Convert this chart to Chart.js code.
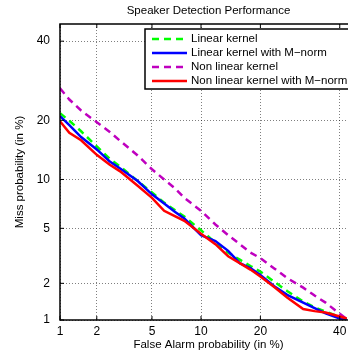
<!DOCTYPE html>
<html>
<head>
<meta charset="utf-8">
<script src="https://cdn.jsdelivr.net/npm/chart.js@4.4.1/dist/chart.umd.min.js"></script>
<style>
  html, body { margin: 0; padding: 0; background: #fff; overflow: hidden; }
  #wrap { width: 372px; height: 352px; }
</style>
</head>
<body>
<div id="wrap"><canvas id="det" width="372" height="352"></canvas></div>
<script>
// Data (percent)
const falseAlarm = [1, 1.2, 1.5, 2, 2.5, 3, 4, 5, 6, 7, 8, 10, 12, 14, 16, 18, 20, 23, 26, 30, 33, 36, 40, 42];
const missLinear = [21.5, 19.9, 17.8, 15.0, 13.0, 11.8, 9.8, 8.4, 7.3, 6.56, 5.97, 4.85, 4.0, 3.39, 3.02, 2.71, 2.46, 2.06, 1.74, 1.43, 1.28, 1.18, 1.06, 1.01];
const missLinearMnorm = [20.9, 19.0, 16.7, 14.5, 12.6, 11.5, 9.8, 8.2, 7.2, 6.4, 5.8, 4.5, 4.1, 3.5, 2.85, 2.62, 2.32, 1.9, 1.62, 1.40, 1.26, 1.14, 1.03, 1.01];
const missNonLinear = [27.3, 24.6, 22.1, 19.6, 17.7, 16.0, 13.5, 11.4, 10.0, 8.9, 7.8, 6.5, 5.3, 4.5, 3.9, 3.4, 3.1, 2.6, 2.2, 1.85, 1.6, 1.4, 1.13, 1.02];
const missNonLinearMnorm = [19.8, 17.5, 16.1, 13.6, 12.1, 11.1, 9.2, 7.8, 6.5, 6.0, 5.6, 4.6, 3.9, 3.2, 2.85, 2.55, 2.26, 1.87, 1.54, 1.24, 1.19, 1.16, 1.07, 1.03];

const tickLabels = [1, 2, 5, 10, 20, 40];
const axisMin = 1;
const axisMax = 45;

const seriesNames = ['Linear kernel', 'Linear kernel with M\u2212norm', 'Non linear kernel', 'Non linear kernel with M\u2212norm'];
const seriesColors = ['#00ff00', '#0000ff', '#bf00bf', '#ff0000'];

const FONT = '"Liberation Sans", Arial, Helvetica, sans-serif';

// inverse normal CDF (Acklam)
function probit(p) {
    const a = [-3.969683028665376e+01, 2.209460984245205e+02, -2.759285104469687e+02, 1.383577518672690e+02, -3.066479806614716e+01, 2.506628277459239e+00];
    const b = [-5.447609879822406e+01, 1.615858368580409e+02, -1.556989798598866e+02, 6.680131188771972e+01, -1.328068155288572e+01];
    const c = [-7.784894002430293e-03, -3.223964580411365e-01, -2.400758277161838e+00, -2.549732539343734e+00, 4.374664141464968e+00, 2.938163982698783e+00];
    const d = [7.784695709041462e-03, 3.224671290700398e-01, 2.445134137142996e+00, 3.754408661907416e+00];
    const plow = 0.02425;
    let q, r;
    if (p < plow) {
        q = Math.sqrt(-2 * Math.log(p));
        return (((((c[0]*q+c[1])*q+c[2])*q+c[3])*q+c[4])*q+c[5]) / ((((d[0]*q+d[1])*q+d[2])*q+d[3])*q+1);
    }
    if (p <= 1 - plow) {
        q = p - 0.5; r = q * q;
        return (((((a[0]*r+a[1])*r+a[2])*r+a[3])*r+a[4])*r+a[5])*q / (((((b[0]*r+b[1])*r+b[2])*r+b[3])*r+b[4])*r+1);
    }
    q = Math.sqrt(-2 * Math.log(1 - p));
    return -(((((c[0]*q+c[1])*q+c[2])*q+c[3])*q+c[4])*q+c[5]) / ((((d[0]*q+d[1])*q+d[2])*q+d[3])*q+1);
}

function toPoints(miss) {
    return falseAlarm.map((fa, i) => ({ x: probit(fa / 100), y: probit(miss[i] / 100) }));
}

const allMiss = [missLinear, missLinearMnorm, missNonLinear, missNonLinearMnorm];
const dashes = [[7, 5], [], [7, 5], []];
const drawOrder = [2, 1, 3, 0]; // red on top

const datasets = allMiss.map((miss, i) => ({
    label: seriesNames[i],
    data: toPoints(miss),
    borderColor: seriesColors[i],
    borderWidth: 2.5,
    borderDash: dashes[i],
    pointRadius: 0,
    tension: 0,
    fill: false,
    order: drawOrder[i]
}));

function probitTicks(scale) {
    scale.ticks = tickLabels.map(v => ({ value: probit(v / 100) }));
}

// frame, inward ticks, title, axis titles and the boxed legend
const decorations = {
    id: 'decorations',
    afterDraw(chart) {
        const { ctx, chartArea: ca, scales } = chart;
        ctx.save();

        // frame
        ctx.strokeStyle = '#000';
        ctx.lineWidth = 1.5;
        ctx.strokeRect(ca.left, ca.top, ca.right - ca.left, ca.bottom - ca.top);

        // inward tick marks
        ctx.lineWidth = 1;
        ctx.beginPath();
        tickLabels.forEach(v => {
            const px = scales.x.getPixelForValue(probit(v / 100));
            ctx.moveTo(px, ca.top); ctx.lineTo(px, ca.top + 4);
            ctx.moveTo(px, ca.bottom); ctx.lineTo(px, ca.bottom - 4);
            const py = scales.y.getPixelForValue(probit(v / 100));
            ctx.moveTo(ca.left, py); ctx.lineTo(ca.left + 4, py);
        });
        ctx.stroke();

        // titles
        const cx = (ca.left + ca.right) / 2;
        ctx.fillStyle = '#000';
        ctx.font = '11.5px ' + FONT;
        ctx.textAlign = 'center';
        ctx.textBaseline = 'middle';
        ctx.fillText('Speaker Detection Performance', cx, 11);
        ctx.fillText('False Alarm probability (in %)', cx, 345);
        ctx.save();
        ctx.translate(20, (ca.top + ca.bottom) / 2);
        ctx.rotate(-Math.PI / 2);
        ctx.fillText('Miss probability (in %)', 0, 0);
        ctx.restore();

        // legend
        const lx = 145, ly = 29, lh = 60;
        ctx.fillStyle = '#fff';
        ctx.fillRect(lx, ly, 220, lh);
        ctx.strokeStyle = '#000';
        ctx.lineWidth = 1.5;
        ctx.strokeRect(lx, ly, 220, lh);
        seriesNames.forEach((name, i) => {
            const y = 39 + i * 14;
            ctx.beginPath();
            ctx.strokeStyle = seriesColors[i];
            ctx.lineWidth = 2.5;
            ctx.setLineDash(dashes[i]);
            ctx.moveTo(152, y);
            ctx.lineTo(187, y);
            ctx.stroke();
            ctx.setLineDash([]);
            ctx.fillStyle = '#000';
            ctx.textAlign = 'left';
            ctx.fillText(name, 191, y);
        });

        ctx.restore();
    }
};

const axisCommon = {
    type: 'linear',
    min: probit(axisMin / 100),
    max: probit(axisMax / 100),
    afterBuildTicks: probitTicks,
    grid: { color: 'rgba(0,0,0,0.5)', lineWidth: 1, drawTicks: false },
    border: { display: false, dash: [1, 2] }
};

new Chart(document.getElementById('det').getContext('2d'), {
    type: 'line',
    data: { datasets },
    options: {
        responsive: false,
        animation: false,
        layout: { padding: { top: 24, right: 15, left: 0, bottom: 0 } },
        plugins: {
            legend: { display: false },
            title: { display: false },
            tooltip: { enabled: false }
        },
        scales: {
            x: {
                ...axisCommon,
                afterFit: s => { s.height = 32; },
                ticks: {
                    padding: 4,
                    color: '#000',
                    font: { family: FONT, size: 12 },
                    maxRotation: 0,
                    autoSkip: false,
                    callback: (v, i) => tickLabels[i]
                }
            },
            y: {
                ...axisCommon,
                afterFit: s => { s.width = 60; },
                ticks: {
                    padding: 10,
                    color: '#000',
                    font: { family: FONT, size: 12 },
                    autoSkip: false,
                    callback: (v, i) => tickLabels[i]
                }
            }
        }
    },
    plugins: [decorations]
});
</script>
</body>
</html>
